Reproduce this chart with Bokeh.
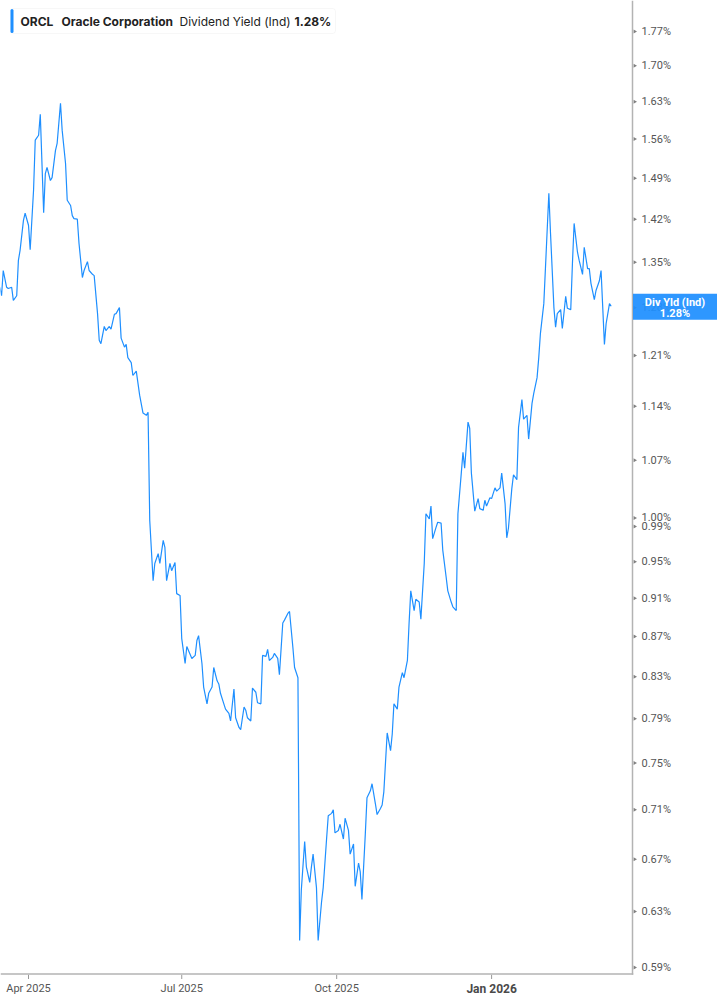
import math
import pandas as pd
from bokeh.plotting import figure
from bokeh.models import (Range1d, Label, LabelSet, BoxAnnotation, ColumnDataSource, LogScale)
from bokeh.core.properties import value
from bokeh.embed import file_html
from bokeh.resources import INLINE

# ---------------- data ----------------
ticker_symbol = "ORCL"
company_name = "Oracle Corporation"
metric_name = "Dividend Yield (Ind)"
price_tag_title = "Div Yld (Ind)"

dates = [
    "2025-03-15", "2025-03-16", "2025-03-17", "2025-03-19", "2025-03-20", "2025-03-22", "2025-03-23",
    "2025-03-25", "2025-03-26", "2025-03-27", "2025-03-29", "2025-03-30",
    "2025-04-01", "2025-04-02", "2025-04-04", "2025-04-05", "2025-04-07", "2025-04-08", "2025-04-10",
    "2025-04-11", "2025-04-12", "2025-04-14", "2025-04-15", "2025-04-17", "2025-04-18", "2025-04-20",
    "2025-04-21", "2025-04-23", "2025-04-24", "2025-04-26", "2025-04-27", "2025-04-28", "2025-04-30",
    "2025-05-01", "2025-05-03", "2025-05-04", "2025-05-06", "2025-05-07", "2025-05-09", "2025-05-10",
    "2025-05-12", "2025-05-13", "2025-05-14", "2025-05-16", "2025-05-17", "2025-05-19", "2025-05-20",
    "2025-05-22", "2025-05-23", "2025-05-25", "2025-05-26", "2025-05-28", "2025-05-29", "2025-05-30",
    "2025-06-01", "2025-06-02", "2025-06-04", "2025-06-06", "2025-06-08", "2025-06-10", "2025-06-11",
    "2025-06-12", "2025-06-14", "2025-06-15", "2025-06-17", "2025-06-18", "2025-06-20", "2025-06-21",
    "2025-06-22", "2025-06-24", "2025-06-25", "2025-06-27", "2025-06-28", "2025-06-30",
    "2025-07-01", "2025-07-03", "2025-07-04", "2025-07-06", "2025-07-07", "2025-07-09", "2025-07-10",
    "2025-07-11", "2025-07-13", "2025-07-14", "2025-07-16", "2025-07-17", "2025-07-19", "2025-07-20",
    "2025-07-22", "2025-07-23", "2025-07-24", "2025-07-26", "2025-07-27", "2025-07-29", "2025-07-30",
    "2025-08-01", "2025-08-02", "2025-08-04", "2025-08-05", "2025-08-07", "2025-08-08", "2025-08-09",
    "2025-08-11", "2025-08-12", "2025-08-14", "2025-08-15", "2025-08-17", "2025-08-18", "2025-08-20",
    "2025-08-21", "2025-08-22", "2025-08-24", "2025-08-25", "2025-08-27", "2025-08-28", "2025-08-30",
    "2025-08-31",
    "2025-09-02", "2025-09-03", "2025-09-05", "2025-09-06", "2025-09-08", "2025-09-09", "2025-09-10",
    "2025-09-12", "2025-09-13", "2025-09-15", "2025-09-16", "2025-09-17", "2025-09-19", "2025-09-20",
    "2025-09-22", "2025-09-23", "2025-09-25", "2025-09-26", "2025-09-28", "2025-09-29", "2025-09-30",
    "2025-10-02", "2025-10-03", "2025-10-05", "2025-10-06", "2025-10-08", "2025-10-09", "2025-10-11",
    "2025-10-12", "2025-10-14", "2025-10-15", "2025-10-16", "2025-10-18", "2025-10-19", "2025-10-21",
    "2025-10-22", "2025-10-24", "2025-10-25", "2025-10-27", "2025-10-28", "2025-10-29", "2025-10-31",
    "2025-11-02", "2025-11-03", "2025-11-04", "2025-11-06", "2025-11-07", "2025-11-09", "2025-11-10",
    "2025-11-12", "2025-11-13", "2025-11-14", "2025-11-16", "2025-11-17", "2025-11-19", "2025-11-20",
    "2025-11-22", "2025-11-23", "2025-11-25", "2025-11-26", "2025-11-27", "2025-11-29", "2025-11-30",
    "2025-12-02", "2025-12-03", "2025-12-05", "2025-12-06", "2025-12-08", "2025-12-09", "2025-12-11",
    "2025-12-12", "2025-12-14", "2025-12-15", "2025-12-16", "2025-12-18", "2025-12-19", "2025-12-20",
    "2025-12-22", "2025-12-24", "2025-12-25", "2025-12-27", "2025-12-28", "2025-12-29", "2025-12-31",
    "2026-01-01", "2026-01-03", "2026-01-04", "2026-01-06", "2026-01-07", "2026-01-09", "2026-01-10",
    "2026-01-11", "2026-01-13", "2026-01-14", "2026-01-16", "2026-01-17", "2026-01-19", "2026-01-20",
    "2026-01-22", "2026-01-23", "2026-01-25", "2026-01-26", "2026-01-28", "2026-01-29", "2026-01-30",
    "2026-02-01", "2026-02-02", "2026-02-04", "2026-02-05", "2026-02-07", "2026-02-08", "2026-02-09",
    "2026-02-11", "2026-02-12", "2026-02-14", "2026-02-15", "2026-02-17", "2026-02-18", "2026-02-19",
    "2026-02-21", "2026-02-22", "2026-02-24", "2026-02-25", "2026-02-27", "2026-02-28",
    "2026-03-01", "2026-03-03", "2026-03-04", "2026-03-06", "2026-03-07", "2026-03-09", "2026-03-10",
    "2026-03-12", "2026-03-13",
]

div_yield_pct = [
    1.311, 1.298, 1.337, 1.311, 1.309, 1.311, 1.291, 1.298, 1.353, 1.369,
    1.418, 1.430, 1.410, 1.370, 1.469, 1.558, 1.567, 1.606, 1.431, 1.498,
    1.509, 1.486, 1.491, 1.539, 1.552, 1.627, 1.576, 1.516, 1.452, 1.443,
    1.426, 1.421, 1.420, 1.380, 1.326, 1.337, 1.351, 1.337, 1.331, 1.329,
    1.271, 1.232, 1.227, 1.252, 1.246, 1.252, 1.248, 1.270, 1.271, 1.280,
    1.235, 1.222, 1.226, 1.207, 1.200, 1.182, 1.188, 1.155, 1.131, 1.128,
    1.132, 0.997, 0.929, 0.948, 0.959, 0.948, 0.974, 0.966, 0.929, 0.948,
    0.940, 0.949, 0.915, 0.913, 0.868, 0.843, 0.860, 0.852, 0.848, 0.851,
    0.866, 0.871, 0.843, 0.820, 0.804, 0.814, 0.820, 0.839, 0.826, 0.823,
    0.814, 0.804, 0.799, 0.795, 0.788, 0.818, 0.791, 0.782, 0.780, 0.801,
    0.798, 0.791, 0.788, 0.819, 0.815, 0.805, 0.804, 0.851, 0.850, 0.857,
    0.846, 0.849, 0.853, 0.848, 0.832, 0.884, 0.887, 0.894, 0.896, 0.859,
    0.839, 0.829, 0.609, 0.646, 0.684, 0.664, 0.652, 0.664, 0.674, 0.648,
    0.609, 0.637, 0.648, 0.686, 0.705, 0.707, 0.710, 0.691, 0.693, 0.698,
    0.686, 0.703, 0.693, 0.674, 0.682, 0.649, 0.667, 0.660, 0.639, 0.690,
    0.720, 0.726, 0.732, 0.715, 0.706, 0.711, 0.714, 0.725, 0.777, 0.761,
    0.776, 0.804, 0.799, 0.820, 0.834, 0.829, 0.846, 0.884, 0.918, 0.897,
    0.909, 0.906, 0.888, 0.948, 1.005, 0.999, 1.014, 0.976, 0.989, 0.995,
    0.994, 0.963, 0.933, 0.918, 0.906, 0.901, 0.897, 1.005, 1.054, 1.080,
    1.060, 1.119, 1.111, 1.054, 1.008, 1.023, 1.011, 1.009, 1.021, 1.014,
    1.024, 1.023, 1.036, 1.032, 1.036, 1.054, 1.017, 0.977, 0.988, 1.035,
    1.052, 1.046, 1.112, 1.149, 1.123, 1.128, 1.097, 1.144, 1.157, 1.179,
    1.207, 1.242, 1.286, 1.342, 1.464, 1.396, 1.280, 1.251, 1.271, 1.277,
    1.249, 1.297, 1.279, 1.277, 1.348, 1.413, 1.366, 1.353, 1.331, 1.374,
    1.340, 1.340, 1.317, 1.292, 1.306, 1.321, 1.337, 1.226, 1.256, 1.286,
    1.282,
]
assert len(dates) == len(div_yield_pct)

y_tick_values = [0.59, 0.63, 0.67, 0.71, 0.75, 0.79, 0.83, 0.87, 0.91, 0.95, 0.99,
                 1.00, 1.07, 1.14, 1.21, 1.28, 1.35, 1.42, 1.49, 1.56, 1.63, 1.70, 1.77]
x_tick_dates = ["2025-04-01", "2025-07-01", "2025-10-01", "2026-01-01"]
x_tick_labels = ["Apr 2025", "Jul 2025", "Oct 2025", "Jan 2026"]
x_tick_bold = [False, False, False, True]

last_value = div_yield_pct[-1]
last_label = f"{last_value:.2f}%"

# ---------------- layout calibration ----------------
W, H = 717, 1005
ANCHOR_DATE = pd.Timestamp("2025-04-01")   # sits at x = 28 px
ANCHOR_PX = 28.0
PX_PER_DAY = 1.684
Y_ANCHOR_VAL, Y_ANCHOR_PX, PX_PER_LN = 0.59, 967.0, 852.0
AXIS_X = 632.0      # right axis line (page px)
AXIS_Y = 973.5      # bottom axis line (page px)


def px_to_time(px):
    return (ANCHOR_DATE + pd.Timedelta(days=(px - ANCHOR_PX) / PX_PER_DAY)).to_pydatetime()


def py_to_val(py):
    return Y_ANCHOR_VAL * math.exp((Y_ANCHOR_PX - py) / PX_PER_LN)


def sy(py):  # page y (top-down) -> frame screen y (bottom-up)
    return H - py


BLUE = "#1E8FFF"
AXIS_GRAY = "#b3b3b3"
LABEL_GRAY = "#555555"
TEXT_DARK = "#222222"

p = figure(width=W, height=H, x_axis_type="datetime", y_axis_type="log",
           x_axis_location=None, y_axis_location=None,
           output_backend="svg", toolbar_location=None,
           min_border=0, min_border_left=0, min_border_right=0,
           min_border_top=0, min_border_bottom=0,
           x_range=Range1d(px_to_time(0), px_to_time(W)),
           y_range=Range1d(py_to_val(H), py_to_val(0)))
p.y_scale = LogScale()
p.outline_line_color = None
p.background_fill_color = "white"
p.border_fill_color = "white"
p.xgrid.visible = False
p.ygrid.visible = False

# ---------------- series ----------------
src = ColumnDataSource(dict(date=pd.to_datetime(dates), yld=div_yield_pct))
p.line(x="date", y="yld", source=src, line_color=BLUE, line_width=1.2)

# ---------------- axes ----------------
# axis lines
p.add_layout(BoxAnnotation(left=AXIS_X - 0.75, right=AXIS_X + 0.75, bottom=sy(AXIS_Y + 0.75), top=H,
                           left_units="screen", right_units="screen",
                           top_units="screen", bottom_units="screen",
                           fill_color=AXIS_GRAY, fill_alpha=1.0, line_color=None))
p.add_layout(BoxAnnotation(left=0, right=AXIS_X + 0.75, bottom=sy(AXIS_Y + 0.75), top=sy(AXIS_Y - 0.75),
                           left_units="screen", right_units="screen",
                           top_units="screen", bottom_units="screen",
                           fill_color=AXIS_GRAY, fill_alpha=1.0, line_color=None))

# y ticks (small right-pointing triangles) and labels
ytick_src = ColumnDataSource(dict(
    x=[px_to_time(AXIS_X + 2.2)] * len(y_tick_values),
    y=y_tick_values,
    text=[f"{v:.2f}%" for v in y_tick_values],
))
p.scatter(x="x", y="y", source=ytick_src, marker="triangle", angle=-math.pi / 2,
          size=4, fill_color="#808080", line_color=None)
p.add_layout(LabelSet(x=641, x_units="screen", y="y", y_units="data", text="text",
                      source=ytick_src, text_baseline="middle", text_align="left",
                      text_font=value("Roboto"), text_font_size="11px",
                      text_color=LABEL_GRAY))

# x ticks and labels
xt = pd.to_datetime(x_tick_dates)
p.segment(x0=xt, x1=xt, y0=[py_to_val(AXIS_Y + 0.75)] * len(xt),
          y1=[py_to_val(AXIS_Y + 5)] * len(xt), line_color="#999999", line_width=1)
for d, lbl, bold in zip(xt, x_tick_labels, x_tick_bold):
    p.add_layout(Label(x=d.to_pydatetime(), x_units="data", y=sy(988), y_units="screen",
                       text=lbl, text_align="center", text_baseline="middle",
                       text_font="Roboto", text_font_size="12px" if bold else "11px",
                       text_font_style="bold" if bold else "normal",
                       text_color="#4a4a4a" if bold else LABEL_GRAY))

# ---------------- header ----------------
p.add_layout(BoxAnnotation(left=10, right=335, top=sy(8), bottom=sy(33),
                           left_units="screen", right_units="screen",
                           top_units="screen", bottom_units="screen",
                           fill_color="white", fill_alpha=1.0,
                           line_color="#e4e4e4", line_width=1, border_radius=3))
p.add_layout(BoxAnnotation(left=10, right=13, top=sy(8.5), bottom=sy(32.5),
                           left_units="screen", right_units="screen",
                           top_units="screen", bottom_units="screen",
                           fill_color=BLUE, fill_alpha=1.0, line_color=None,
                           border_radius=2))
header_parts = [
    (20, ticker_symbol, "bold"),
    (61, company_name, "bold"),
    (179, metric_name, "normal"),
    (294, last_label, "bold"),
]
for hx, txt, style in header_parts:
    p.add_layout(Label(x=hx, y=sy(20.5), x_units="screen", y_units="screen", text=txt,
                       text_align="left", text_baseline="middle",
                       text_font="Inter", text_font_size="12px",
                       text_font_style=style, text_color=TEXT_DARK))

# ---------------- price tag ----------------
p.add_layout(BoxAnnotation(left=AXIS_X + 0.5, right=W, top=sy(293.3), bottom=sy(319.3),
                           left_units="screen", right_units="screen",
                           top_units="screen", bottom_units="screen",
                           fill_color=BLUE, fill_alpha=0.93, line_color=None))
for ty, txt in [(301.7, price_tag_title), (312.7, last_label)]:
    p.add_layout(Label(x=674.5, y=sy(ty), x_units="screen", y_units="screen", text=txt,
                       text_align="center", text_baseline="middle",
                       text_font="Roboto", text_font_size="11px",
                       text_font_style="bold", text_color="white"))

open("out.html", "w").write(file_html(p, INLINE))
